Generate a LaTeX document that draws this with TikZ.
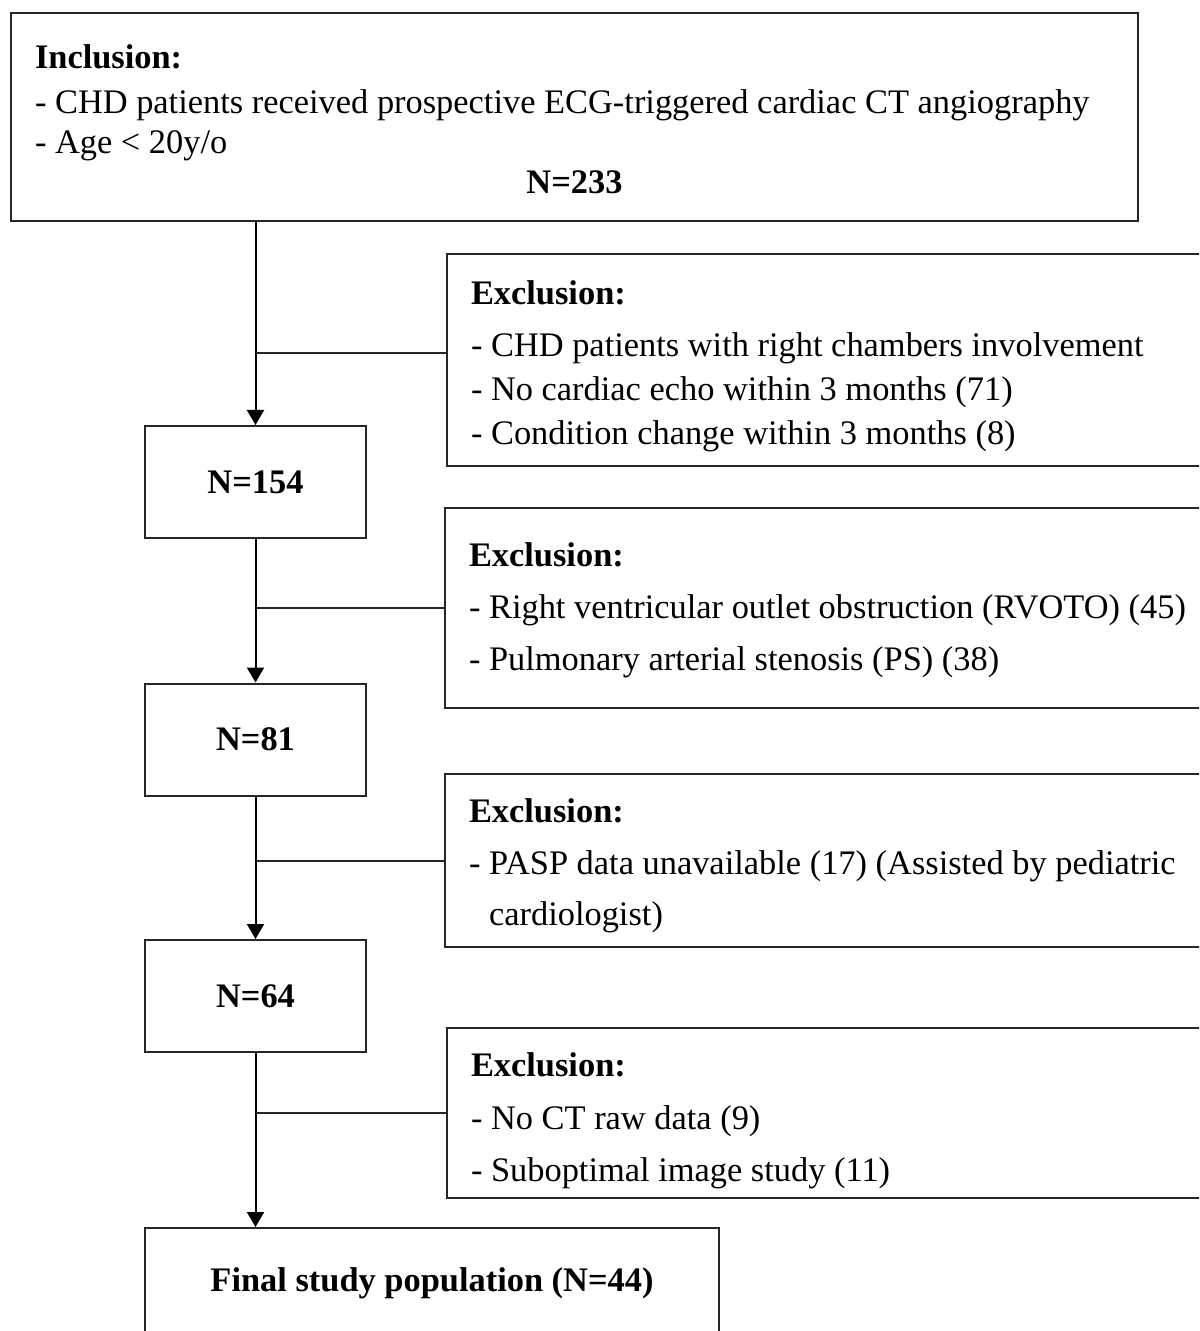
\documentclass[tikz,border=0pt]{standalone}
\usepackage{fontspec}
\setmainfont{Liberation Serif}
\usetikzlibrary{arrows.meta,positioning}

\begin{document}
\begin{tikzpicture}[x=0.5pt,y=-0.5pt,
    box/.style={draw=black!85, line width=1pt},
    nbox/.style={box, minimum width=110.5pt, minimum height=56pt,
      font=\fontsize{17.2}{22}\selectfont\bfseries},
    exbox/.style={box, anchor=north west, text width=400pt, inner xsep=12pt,
      inner ysep=0pt, align=flush left, minimum height=#1,
      font=\fontsize{17.2}{22}\selectfont},
    branch/.style={line width=1pt, draw=black!85},
    flow/.style={line width=1pt, -{Triangle[length=7.5pt,width=8.5pt]}}]
  \useasboundingbox (0,0) rectangle (1199,1331);
  \clip (0,0) rectangle (1199,1331);
  % inclusion
  \node[box, anchor=north west, text width=539.5pt, inner xsep=12pt, inner ysep=0pt,
    align=flush left, minimum height=104pt, font=\fontsize{17.2}{20}\selectfont] (incl) at (10,12)
    {\rule{0pt}{13.7pt}\textbf{Inclusion:}\\[2.5pt]
     - CHD patients received prospective ECG-triggered cardiac CT angiography\\
     - Age < 20y/o\\
     \makebox[\linewidth]{\textbf{N=233}}};
  % counts
  \node[nbox] (n154) at (255.5,482) {N=154};
  \node[nbox] (n81) at (255.5,739.5) {N=81};
  \node[nbox] (n64) at (255.5,996) {N=64};
  \node[box, minimum width=287pt, minimum height=55pt,
    font=\fontsize{17.2}{22}\selectfont\bfseries] (final) at (432,1283)
    {Final study population (N=44)};
  % exclusions
  \node[exbox=106pt] (excl1) at (446,253)
    {\rule{0pt}{18.7pt}\textbf{Exclusion:}\\[4pt]
     - CHD patients with right chambers involvement\\
     - No cardiac echo within 3 months (71)\\
     - Condition change within 3 months (8)};
  \node[exbox=100pt] (excl2) at (444,507)
    {\rule{0pt}{14.7pt}\textbf{Exclusion:}\\[4pt]
     - Right ventricular outlet obstruction (RVOTO) (45)\\[4pt]
     - Pulmonary arterial stenosis (PS) (38)};
  \node[exbox=86.5pt] (excl3) at (444,773)
    {\rule{0pt}{17.7pt}\textbf{Exclusion:}\\[4pt]
     - PASP data unavailable (17) (Assisted by pediatric\\[3.5pt]
     \phantom{- }cardiologist)};
  \node[exbox=85pt] (excl4) at (446,1027)
    {\rule{0pt}{19.7pt}\textbf{Exclusion:}\\[4pt]
     - No CT raw data (9)\\[4pt]
     - Suboptimal image study (11)};
  % main flow
  \draw[flow] (incl.south -| n154.north) -- (n154.north);
  \draw[flow] (n154.south) -- (n81.north);
  \draw[flow] (n81.south) -- (n64.north);
  \draw[flow] (n64.south) -- (final.north -| n64.south);
  % side branches
  \draw[branch] ([yshift=3.5pt]excl1.west) -- ([yshift=3.5pt]excl1.west -| n154.north);
  \draw[branch] (excl2.west) -- (excl2.west -| n81.north);
  \draw[branch] (excl3.west) -- (excl3.west -| n64.north);
  \draw[branch] (excl4.west) -- (excl4.west -| n64.south);
\end{tikzpicture}
\end{document}
